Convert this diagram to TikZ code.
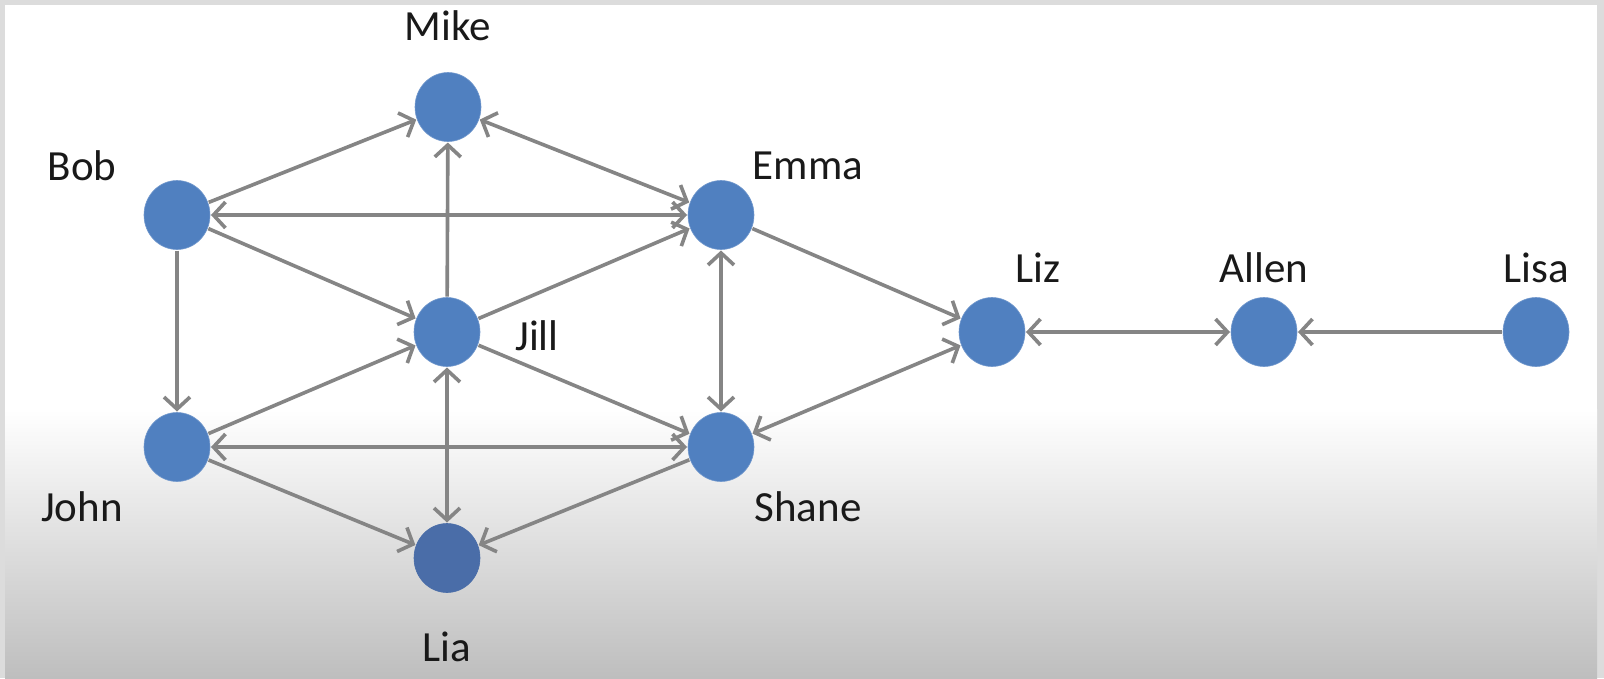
\documentclass[tikz,border=0pt]{standalone}
\usepackage{fontspec}
\setmainfont{Carlito}
\usetikzlibrary{arrows.meta,shapes.geometric}
\definecolor{frame}{HTML}{DCDCDC}
\definecolor{bottomgray}{HTML}{BEBEBE}
\definecolor{nodeblue}{HTML}{5080C0}
\definecolor{nodedark}{HTML}{4A6DA8}
\definecolor{edgegray}{HTML}{858585}
\tikzset{
  person/.style={ellipse, minimum width=66pt, minimum height=69pt, inner sep=0pt, fill=nodeblue, draw=nodeblue!80!white, line width=0.6pt, outer sep=1pt},
  lbl/.style={font=\fontsize{43}{50}\selectfont, text=black!90, inner sep=0pt},
  tip/.style={},
  edge/.style={draw=edgegray, line width=3.6pt, -{Straight Barb[length=12pt,width=26pt,line width=3.6pt]}},
  bi/.style={draw=edgegray, line width=3.6pt, {Straight Barb[length=12pt,width=26pt,line width=3.6pt]}-{Straight Barb[length=12pt,width=26pt,line width=3.6pt]}}
}
\begin{document}
\begin{tikzpicture}[x=1pt,y=-1pt]
\useasboundingbox (0,0) rectangle (1604,678);
% background
\fill[frame] (0,0) rectangle (1604,678);
\fill[white] (5,5) rectangle (1597,410);
\shade[top color=white, bottom color=bottomgray] (5,409) rectangle (1597,678);
% nodes
\node[person] (mike)  at (448,107) {};
\node[person] (bob)   at (177,215) {};
\node[person] (emma)  at (721,215) {};
\node[person] (jill)  at (447,332) {};
\node[person] (john)  at (177,447) {};
\node[person] (shane) at (721,447) {};
\node[person, fill=nodedark, draw=nodedark] (lia) at (447,558) {};
\node[person] (liz)   at (992,332) {};
\node[person] (allen) at (1264,332) {};
\node[person] (lisa)  at (1536,332) {};
% labels
\node[lbl] (lmike)  at (448,26)  {Mike};
\node[lbl] (lbob)   at (82,166)  {Bob};
\node[lbl] (lemma)  at (808,166) {Emma};
\node[lbl] (ljill)  at (537,336) {Jill};
\node[lbl] (ljohn)  at (82,507)  {John};
\node[lbl] (lshane) at (808,507) {Shane};
\node[lbl] (llia)   at (447,647) {Lia};
\node[lbl] (lliz)   at (1038,268) {Liz};
\node[lbl] (lallen) at (1264,268) {Allen};
\node[lbl] (llisa)  at (1536,268) {Lisa};
% edges
\draw[edge] (bob) -- (mike);
\draw[bi] (mike) -- (emma);
\draw[bi] (bob) -- (emma);
\draw[edge] (bob) -- (jill);
\draw[edge] (jill) -- (mike);
\draw[edge] (jill) -- (emma);
\draw[edge] (bob) -- (john);
\draw[edge] (john) -- (jill);
\draw[bi] (john) -- (shane);
\draw[bi] (jill) -- (lia);
\draw[edge] (jill) -- (shane);
\draw[edge] (john) -- (lia);
\draw[edge] (shane) -- (lia);
\draw[bi] (emma) -- (shane);
\draw[edge] (emma) -- (liz);
\draw[bi] (liz) -- (shane);
\draw[bi] (liz) -- (allen);
\draw[edge] (lisa) -- (allen);
\end{tikzpicture}
\end{document}
